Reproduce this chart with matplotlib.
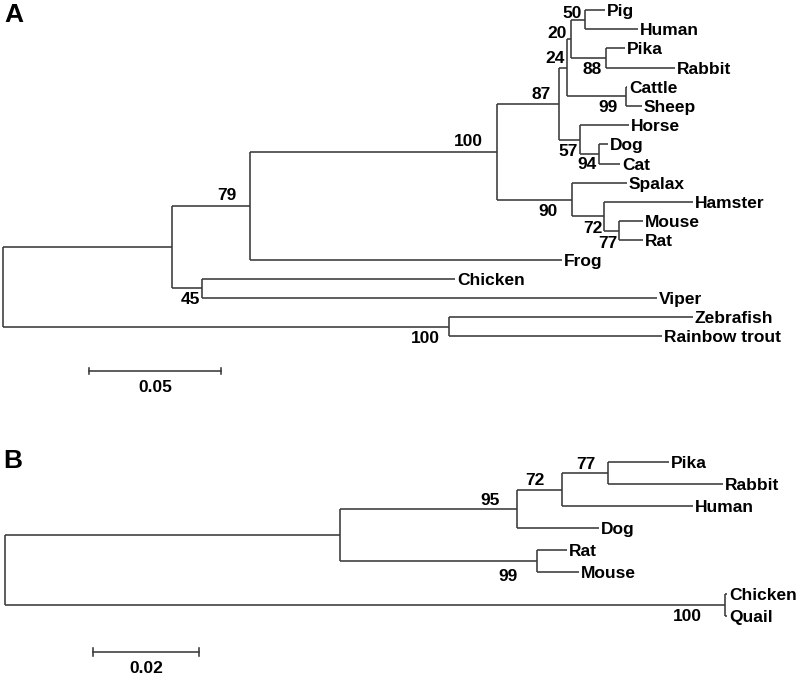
import matplotlib
matplotlib.use("Agg")
import matplotlib.pyplot as plt

plt.rcParams['font.family'] = ['Liberation Sans', 'DejaVu Sans']
plt.rcParams['font.weight'] = 'bold'

# ---------------- Panel A data ----------------
A_leaves = ["Pig", "Human", "Pika", "Rabbit", "Cattle", "Sheep", "Horse", "Dog", "Cat",
            "Spalax", "Hamster", "Mouse", "Rat", "Frog", "Chicken", "Viper",
            "Zebrafish", "Rainbow trout"]
A_parent = ["r", "r", "a", "a", "b", "b", "m", "m", "n87", "n87", "n24", "n24",
            "n20", "n20", "ph", "ph", "pr", "pr", "cs", "cs", "n57", "n57", "dc", "dc",
            "n90", "n90", "n72", "n72", "n77", "n77", "cv", "cv", "fish", "fish"]
A_child = ["a", "fish", "b", "cv", "m", "Frog", "n87", "n90", "n24", "n57", "n20", "cs",
           "ph", "pr", "Pig", "Human", "Pika", "Rabbit", "Cattle", "Sheep", "Horse", "dc",
           "Dog", "Cat", "Spalax", "n72", "Hamster", "n77", "Mouse", "Rat",
           "Chicken", "Viper", "Zebrafish", "Rainbow trout"]
A_length = [0.0640, 0.1689, 0.0295, 0.0114, 0.0936, 0.1182, 0.0235, 0.0284,
            0.0030, 0.0080, 0.0015, 0.0223, 0.0053, 0.0133, 0.0076, 0.0201,
            0.0072, 0.0261, 0.0004, 0.0061, 0.0186, 0.0072, 0.0034, 0.0080,
            0.0208, 0.0121, 0.0337, 0.0057, 0.0091, 0.0091, 0.0958, 0.1723,
            0.0924, 0.0807]
A_boot_nodes = ["ph", "n20", "n24", "n87", "m", "b", "cv", "fish", "pr", "cs",
                "n57", "dc", "n90", "n72", "n77"]
A_boot_values = [50, 20, 24, 87, 100, 79, 45, 100, 88, 99, 57, 94, 90, 72, 77]
A_scale = 0.05

# ---------------- Panel B data ----------------
B_leaves = ["Pika", "Rabbit", "Human", "Dog", "Rat", "Mouse", "Chicken", "Quail"]
B_parent = ["r", "r", "mam", "mam", "n95", "n95", "n72", "n72", "n77", "n77",
            "rm", "rm", "cq", "cq"]
B_child = ["mam", "cq", "n95", "rm", "n72", "Dog", "n77", "Human", "Pika", "Rabbit",
           "Rat", "Mouse", "Chicken", "Quail"]
B_length = [0.0632, 0.1358, 0.0334, 0.0372, 0.0085, 0.0155, 0.0087, 0.0247,
            0.0115, 0.0217, 0.0057, 0.0079, 0.0004, 0.0004]
B_boot_nodes = ["n77", "n72", "n95", "rm", "cq"]
B_boot_values = [77, 72, 95, 99, 100]
B_scale = 0.02

# ---------------- styling (pixel offsets of bootstrap labels) ----------------
A_boot_offsets = {"ph": (-3, -7.5), "n20": (-4, -6.5), "n24": (-2, -10.5),
                  "n87": (-8, -10.5), "m": (-14, -12), "b": (-13, -12),
                  "cv": (-2, 10), "fish": (-9, 10), "pr": (-4, 10.5),
                  "cs": (-8, 10), "n57": (-2, 10.5), "dc": (-2, 9),
                  "n90": (-14, 10), "n72": (-1, 10.5), "n77": (-1, 11.5)}
B_boot_offsets = {"n77": (-13, -10), "n72": (-17, -10.5), "n95": (-17, -10),
                  "rm": (-19, 14), "cq": (-23, 10)}

LINE_COLOR = "#3a3a3a"
LW = 1.15
FS = 12.5

W, H = 800, 676
fig = plt.figure(figsize=(W / 100, H / 100), dpi=100)


def layout(leaves, parent, child, length):
    kids = {}
    blen = {}
    for p, c, l in zip(parent, child, length):
        kids.setdefault(p, []).append(c)
        blen[c] = l
    xs = {"r": 0.0}
    ys = {}

    def walk(n):
        for c in kids.get(n, []):
            xs[c] = xs[n] + blen[c]
            walk(c)

    walk("r")

    def gety(n):
        if n in ys:
            return ys[n]
        if n not in kids:
            ys[n] = leaves.index(n)
        else:
            cy = [gety(c) for c in kids[n]]
            ys[n] = (cy[0] + cy[-1]) / 2.0
        return ys[n]

    gety("r")
    return kids, xs, ys


def draw_tree(ax, leaves, parent, child, length, boot_nodes, boot_values, offsets):
    kids, xs, ys = layout(leaves, parent, child, length)
    for p, c in zip(parent, child):
        ax.plot([xs[p], xs[c]], [ys[c], ys[c]], color=LINE_COLOR, lw=LW,
                solid_capstyle="butt")
    for n, cs in kids.items():
        cy = [ys[c] for c in cs]
        ax.plot([xs[n], xs[n]], [min(cy), max(cy)], color=LINE_COLOR, lw=LW,
                solid_capstyle="butt")
    for lf in leaves:
        ax.annotate(lf, (xs[lf], ys[lf]), xytext=(2, 0), textcoords="offset pixels",
                    ha="left", va="center_baseline", fontsize=FS, fontweight="bold")
    for n, v in zip(boot_nodes, boot_values):
        dx, dy = offsets[n]
        ax.annotate(str(v), (xs[n], ys[n]), xytext=(dx, -dy), textcoords="offset pixels",
                    ha="right", va="center_baseline", fontsize=FS, fontweight="bold")


def scale_bar(ax, x0, y, length, label):
    ax.plot([x0, x0 + length], [y, y], color=LINE_COLOR, lw=LW)
    for xx in (x0, x0 + length):
        ax.plot([xx, xx], [y - 0.18, y + 0.18], color=LINE_COLOR, lw=LW)
    ax.annotate(label, (x0 + length / 2, y), xytext=(0, -15), textcoords="offset pixels",
                ha="center", va="center_baseline", fontsize=FS, fontweight="bold")


# ---- Panel A axes: covers pixel rows 0..420 ----
pxA = 2640.0      # pixels per substitution unit
rootA = 3.0
leaf0A, stepA = 10.0, 19.2
topA, botA = 0, 420
axA = fig.add_axes([0, (H - botA) / H, 1, (botA - topA) / H])
axA.set_xlim(-rootA / pxA, (W - rootA) / pxA)
axA.set_ylim((botA - leaf0A) / stepA, (topA - leaf0A) / stepA)
axA.axis("off")
draw_tree(axA, A_leaves, A_parent, A_child, A_length, A_boot_nodes, A_boot_values,
          A_boot_offsets)
scale_bar(axA, (89 - rootA) / pxA, (371 - leaf0A) / stepA, A_scale, "0.05")

# ---- Panel B axes: covers pixel rows 420..676 ----
pxB = 5300.0
rootB = 5.0
leaf0B, stepB = 462.0, 22.0
topB, botB = 420, 676
axB = fig.add_axes([0, (H - botB) / H, 1, (botB - topB) / H])
axB.set_xlim(-rootB / pxB, (W - rootB) / pxB)
axB.set_ylim((botB - leaf0B) / stepB, (topB - leaf0B) / stepB)
axB.axis("off")
draw_tree(axB, B_leaves, B_parent, B_child, B_length, B_boot_nodes, B_boot_values,
          B_boot_offsets)
scale_bar(axB, (93 - rootB) / pxB, (652 - leaf0B) / stepB, B_scale, "0.02")

fig.text(4 / W, 1 - 15 / H, "A", fontsize=19, fontweight="bold", ha="left", va="center")
fig.text(3 / W, 1 - 461 / H, "B", fontsize=19, fontweight="bold", ha="left", va="center")

fig.savefig("out.png", dpi=100)
